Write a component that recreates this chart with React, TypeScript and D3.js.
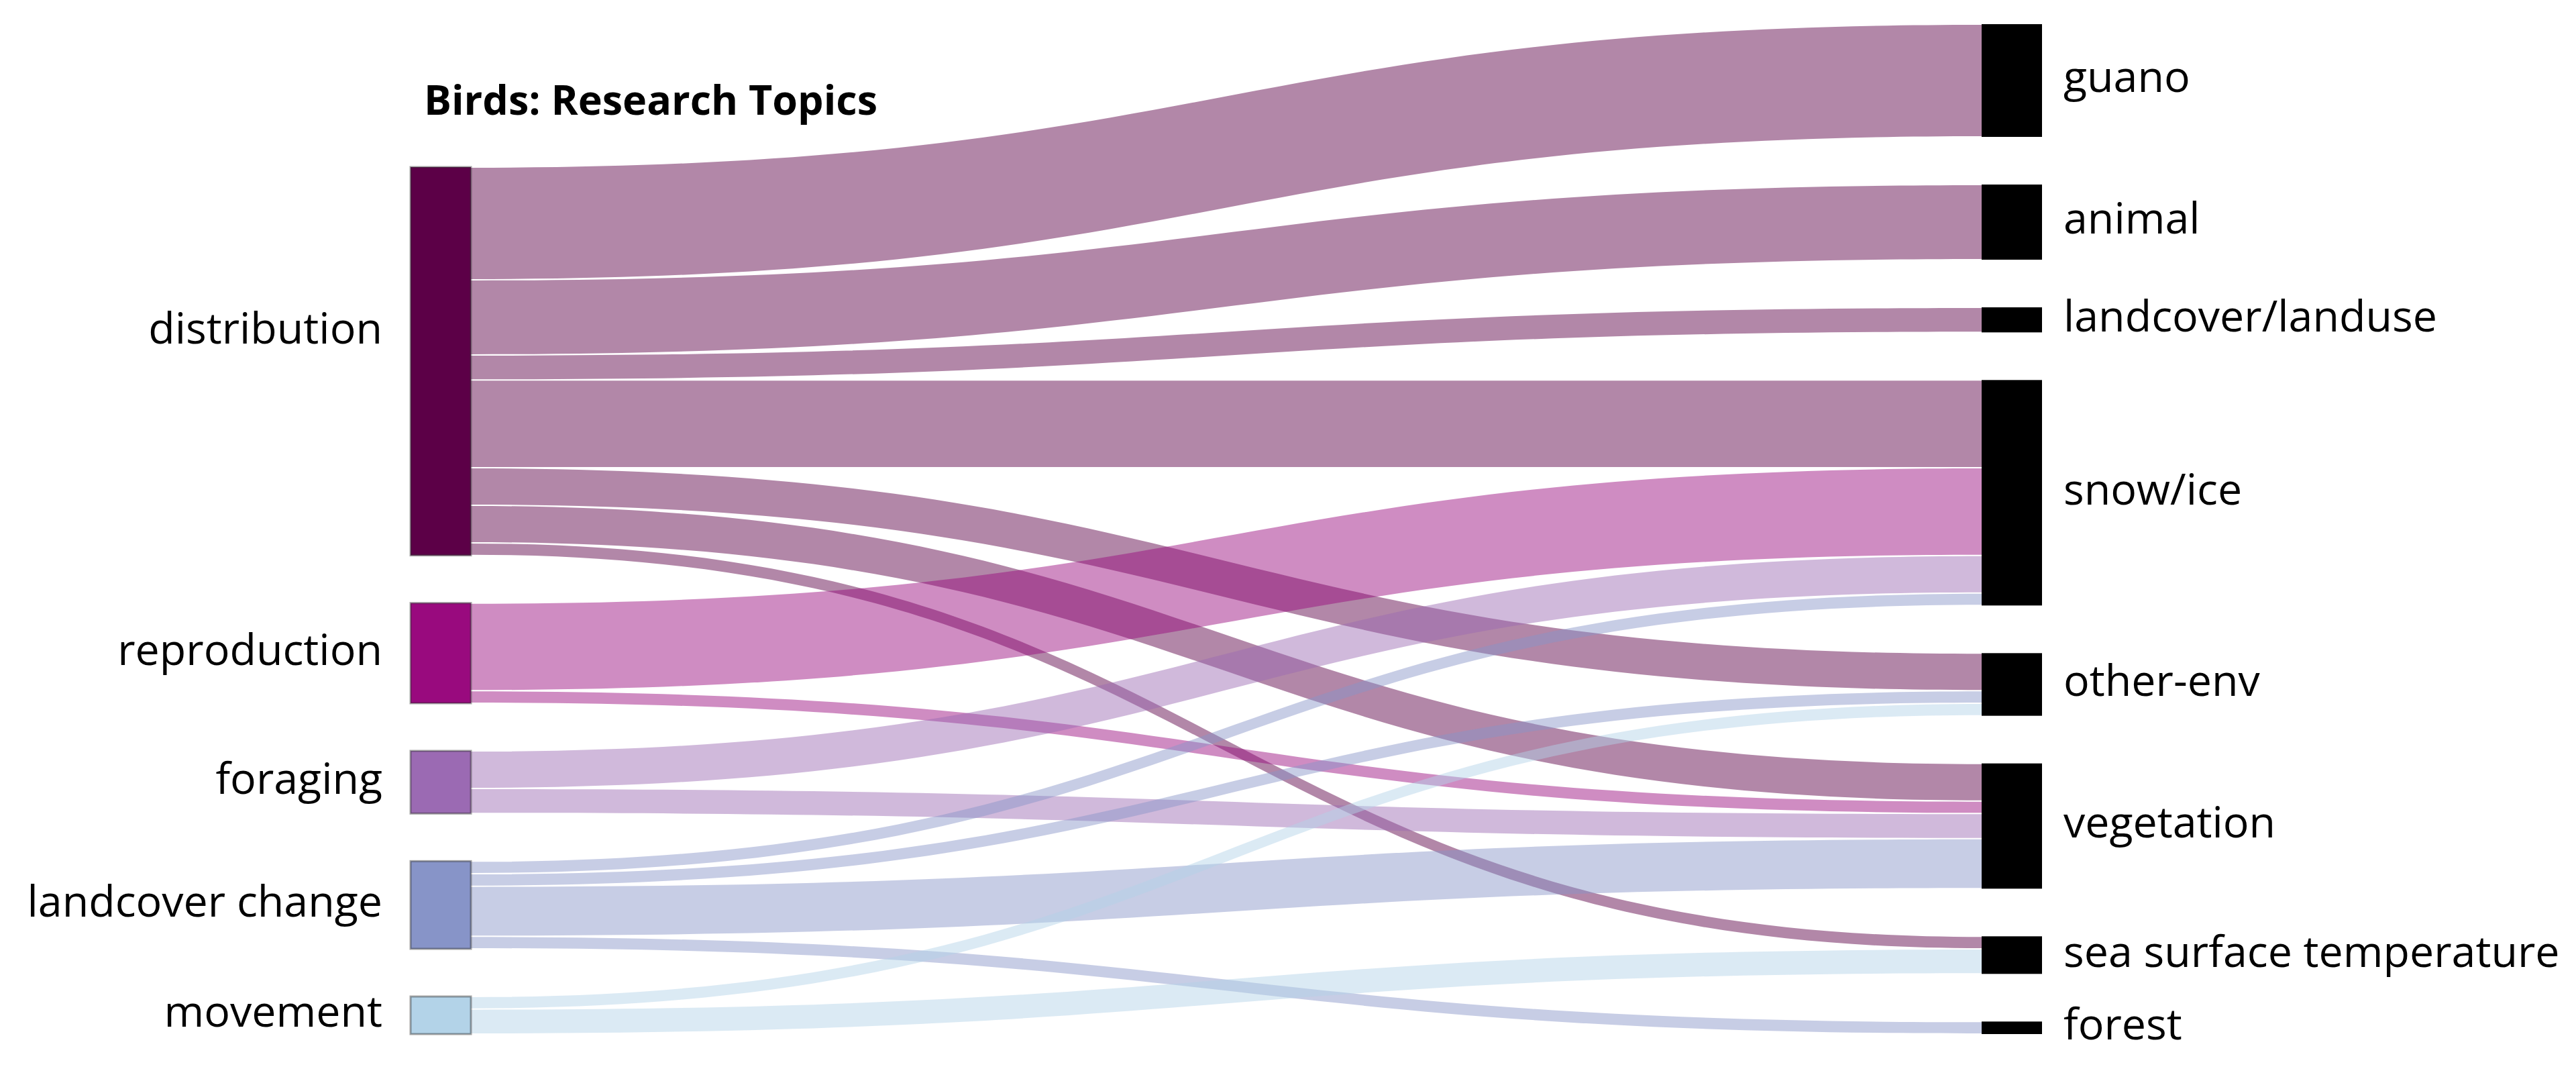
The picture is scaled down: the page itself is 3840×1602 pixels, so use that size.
// App.tsx - Birds research topics sankey (hand-rolled layout, d3 scales + paths)
import React from 'react';
import * as d3 from 'd3';

// --- Data ---
const sources = ['distribution', 'reproduction', 'foraging', 'landcover change', 'movement'];
const targets = ['guano', 'animal', 'landcover/landuse', 'snow/ice', 'other-env', 'vegetation', 'sea surface temperature', 'forest'];
const sourceColors = ['#5c0047', '#990a7e', '#9b6ab3', '#8794c8', '#b3d3e8'];

// [source, target, count]
const flows: [string, string, number][] = [
  ['distribution', 'guano', 9],
  ['distribution', 'animal', 6],
  ['distribution', 'landcover/landuse', 2],
  ['distribution', 'snow/ice', 7],
  ['distribution', 'other-env', 3],
  ['distribution', 'vegetation', 3],
  ['distribution', 'sea surface temperature', 1],
  ['reproduction', 'snow/ice', 7],
  ['reproduction', 'vegetation', 1],
  ['foraging', 'snow/ice', 3],
  ['foraging', 'vegetation', 2],
  ['landcover change', 'snow/ice', 1],
  ['landcover change', 'other-env', 1],
  ['landcover change', 'vegetation', 4],
  ['landcover change', 'forest', 1],
  ['movement', 'other-env', 1],
  ['movement', 'sea surface temperature', 2],
];

const title = 'Birds: Research Topics';

// --- Layout constants ---
const W = 3840, H = 1602;
const LEFT_X = 612, RIGHT_X = 2954, NODE_W = 90;
const TOP = 36, BOTTOM = 1541, PAD = 71;
const FONT = '"Open Sans", "Noto Sans", sans-serif';

function stackColumn(names: string[], totals: Map<string, number>, scale: d3.ScaleLinear<number, number>) {
  const sum = d3.sum(names, n => totals.get(n) || 0);
  let y = BOTTOM - (scale(sum) + (names.length - 1) * PAD);
  const out = new Map<string, { y0: number; y1: number }>();
  names.forEach(n => {
    const h = scale(totals.get(n) || 0);
    out.set(n, { y0: y, y1: y + h });
    y += h + PAD;
  });
  return out;
}

function bandPath(x0: number, x1: number, a0: number, b0: number, a1: number, b1: number) {
  const xm = (x0 + x1) / 2;
  const p = d3.path();
  p.moveTo(x0, a0);
  p.bezierCurveTo(xm, a0, xm, a1, x1, a1);
  p.lineTo(x1, b1);
  p.bezierCurveTo(xm, b1, xm, b0, x0, b0);
  p.closePath();
  return p.toString();
}

export default function App() {
  const outTotals = d3.rollup(flows, v => d3.sum(v, d => d[2]), d => d[0]);
  const inTotals = d3.rollup(flows, v => d3.sum(v, d => d[2]), d => d[1]);
  const grand = d3.sum(flows, d => d[2]);

  // value -> pixels, fitted so the right column fills TOP..BOTTOM
  const vScale = d3.scaleLinear().domain([0, grand]).range([0, BOTTOM - TOP - (targets.length - 1) * PAD]);
  const color = d3.scaleOrdinal<string, string>().domain(sources).range(sourceColors);

  const leftNodes = stackColumn(sources, outTotals, vScale);
  const rightNodes = stackColumn(targets, inTotals, vScale);

  // link offsets: at the source sorted by target order, at the target by source order
  const srcOff = new Map(sources.map(s => [s, leftNodes.get(s)!.y0]));
  const tgtOff = new Map(targets.map(t => [t, rightNodes.get(t)!.y0]));
  const sortedBySrc = flows.slice().sort((a, b) =>
    d3.ascending(sources.indexOf(a[0]), sources.indexOf(b[0])) || d3.ascending(targets.indexOf(a[1]), targets.indexOf(b[1])));
  const linkGeo = new Map<string, any>();
  sortedBySrc.forEach(f => {
    const h = vScale(f[2]);
    const y = srcOff.get(f[0])!;
    linkGeo.set(f[0] + '|' + f[1], { f, s0: y, s1: y + h });
    srcOff.set(f[0], y + h);
  });
  sortedBySrc.forEach(f => {
    const g = linkGeo.get(f[0] + '|' + f[1]);
    const h = vScale(f[2]);
    const y = tgtOff.get(f[1])!;
    g.t0 = y; g.t1 = y + h;
    tgtOff.set(f[1], y + h);
  });
  const links = sortedBySrc.map(f => linkGeo.get(f[0] + '|' + f[1]));
  const inset = 1;

  return (
    <div style={{ position: 'absolute', left: 0, top: 0 }}>
      <svg width={W} height={H} style={{ display: 'block', background: '#fff' }}>
        <g className="links">
          {links.map((l, i) => (
            <path key={i}
              d={bandPath(LEFT_X + NODE_W, RIGHT_X, l.s0 + inset, l.s1 - inset, l.t0 + inset, l.t1 - inset)}
              fill={color(l.f[0])} fillOpacity={0.47} />
          ))}
        </g>
        <g className="nodes-left">
          {sources.map(s => {
            const n = leftNodes.get(s)!;
            return <rect key={s} x={LEFT_X} y={n.y0} width={NODE_W} height={n.y1 - n.y0}
              fill={color(s)} stroke="#333" strokeOpacity={0.45} strokeWidth={3} />;
          })}
        </g>
        <g className="nodes-right">
          {targets.map(t => {
            const n = rightNodes.get(t)!;
            return <rect key={t} x={RIGHT_X} y={n.y0} width={NODE_W} height={n.y1 - n.y0} fill="#000" />;
          })}
        </g>
        <g className="labels" fontFamily={FONT} fontSize={64.5} fill="#000">
          {sources.map(s => {
            const n = leftNodes.get(s)!;
            const shift = s === 'distribution' ? -44 : 0;
            return <text key={s} x={LEFT_X - 42} y={(n.y0 + n.y1) / 2 + shift} dy="0.27em" textAnchor="end">{s}</text>;
          })}
          {targets.map(t => {
            const n = rightNodes.get(t)!;
            return <text key={t} x={RIGHT_X + NODE_W + 32} y={(n.y0 + n.y1) / 2} dy="0.27em">{t}</text>;
          })}
        </g>
        <text x={632} y={171} fontFamily={FONT} fontWeight={700} fontSize={61} fill="#000">{title}</text>
      </svg>
    </div>
  );
}
